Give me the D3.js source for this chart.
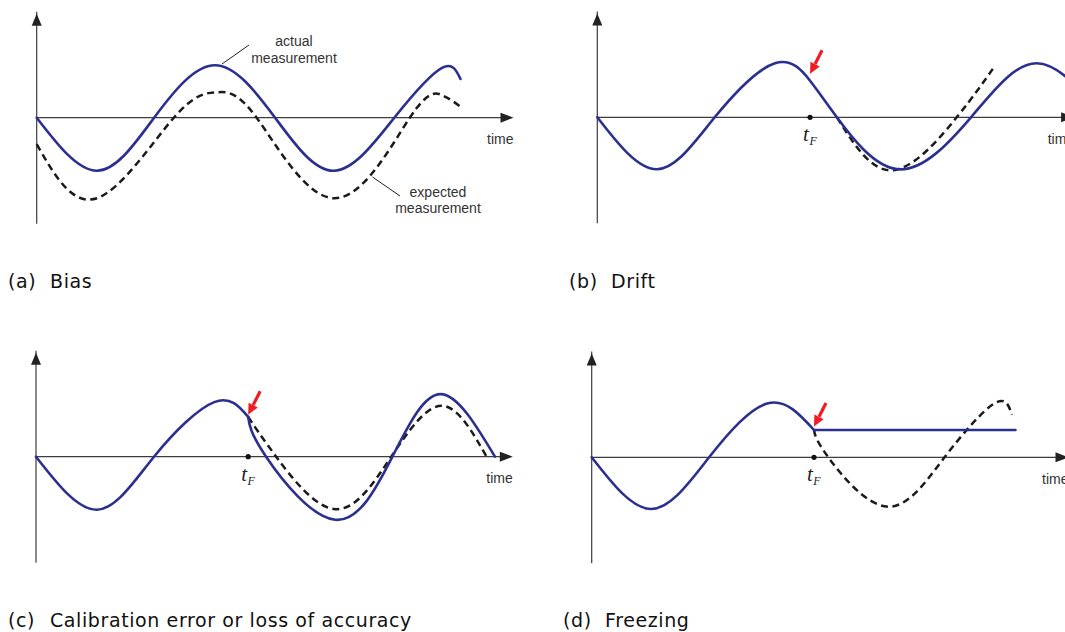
<!DOCTYPE html>
<html><head><meta charset="utf-8">
<script src="https://cdn.jsdelivr.net/npm/d3@7"></script>
<style>body{margin:0;background:#fff} svg{display:block}</style>
</head><body>
<svg id="chart" width="1065" height="632"></svg>
<script>
// ---- data (time in quarter-periods, value in amplitude units) ----
const biasActual   = [[0,0],[1.01,-1],[1.97,0],[2.99,0.99],[4.0,0],[4.99,-1],[6.0,0],[6.8,0.94],[7.11,0.73]];
const biasExpected = [[0,-0.5],[1.01,-1.52],[2.30,0],[3.02,0.48],[3.69,0],[5.0,-1.52],[6.26,0],[6.79,0.43],[7.11,0.21]];

const driftActual   = [[0,0],[1.0,-0.98],[1.97,0],[2.98,1.02],[3.57,0.69],[4.02,0],[5.05,-0.98],[6.27,0],[7.37,1.02],[8.5,0]];
const driftExpected = [[4.02,0],[4.95,-1.0],[6.03,0],[6.64,0.92]];
const driftTF = 3.57;

const calibActualBefore = [[0,0],[1.02,-1.0],[1.98,0],[2.99,1.03],[3.56,0.75]];
const calibActualAfter  = [[3.56,0.75],[3.86,0],[5.02,-1.19],[5.98,0],[6.79,1.18],[7.70,0]];
const calibExpected     = [[3.56,0.75],[4.03,0],[5.02,-0.99],[5.96,0],[6.81,0.96],[7.56,0]];
const calibTF = 3.56;

const freezeActualBefore = [[0,0],[1.0,-0.975],[1.97,0],[2.96,1.02],[3.73,0.515]];
const freezeActualFrozen = [[3.73,0.515],[7.11,0.515]];
const freezeExpected     = [[3.73,0.515],[3.97,0],[4.95,-0.93],[5.92,0],[6.76,1.02],[7.05,0.8]];
const freezeTF = 3.73;

// red arrow targets (value at tip, just above the curve)
const arrowTips = [0.82, 0.79, 0.58];

const captionTags  = ["(a)","(b)","(c)","(d)"];
const captionTexts = ["Bias","Drift","Calibration error or loss of accuracy","Freezing"];
const axisLabel = "time";
const biasLabels = [["actual","measurement"],["expected","measurement"]];

// ---- drawing ----
const svg = d3.select("#chart");
const BLUE = "#2b3090", DASH = "#1b1b1b", RED = "#ee1c25", AXIS = "#3d3d3d", TXT = "#333";
const XU = 59.6, YU = 53;

function makePanel(ox, oy){
  const g = svg.append("g");
  const x = d3.scaleLinear().domain([0,8]).range([ox, ox + 8*XU]);
  const y = d3.scaleLinear().domain([-1,1]).range([oy + YU, oy - YU]);
  g.append("line").attr("x1", x(0)).attr("x2", x(0)).attr("y1", y(-2)).attr("y2", y(1.96)-2)
    .attr("stroke", AXIS).attr("stroke-width", 1.2);
  g.append("path").attr("d", `M${x(0)},${y(1.96)} l-5,12 l10,0 z`).attr("fill", "#222");
  g.append("line").attr("x1", x(0)).attr("x2", x(8)-4).attr("y1", y(0)).attr("y2", y(0))
    .attr("stroke", AXIS).attr("stroke-width", 1.2);
  g.append("path").attr("d", `M${x(8)},${y(0)} l-13,-5 l0,10 z`).attr("fill", "#222");
  g.append("text").attr("x", x(8)).attr("y", y(0)+26.5).attr("text-anchor","end")
    .attr("font-family","'Liberation Sans', Arial, sans-serif").attr("font-size", 14)
    .attr("fill", TXT).text(axisLabel);
  return {g, x, y};
}

function curve(p, data, opts){
  const line = d3.line().x(d => p.x(d[0])).y(d => p.y(d[1]))
    .curve(opts.linear ? d3.curveLinear : d3.curveNatural);
  const path = p.g.append("path").datum(data).attr("d", line)
    .attr("fill","none").attr("stroke", opts.color).attr("stroke-width", opts.width || 2.6)
    .attr("stroke-linecap", opts.dash ? "butt" : "round").attr("stroke-linejoin","round");
  if (opts.dash) path.attr("stroke-dasharray", opts.dash);
  return path;
}

function tfMark(p, tf, tipVal){
  const cx = p.x(tf), cy = p.y(0);
  p.g.append("circle").attr("cx", cx).attr("cy", cy).attr("r", 2.6).attr("fill", "#111");
  const t = p.g.append("text").attr("x", cx - 7).attr("y", cy + 24)
    .attr("font-family","'Liberation Serif', 'Times New Roman', serif")
    .attr("font-style","italic").attr("fill", "#222");
  t.append("tspan").attr("font-size", 21).text("t");
  t.append("tspan").attr("font-size", 12).attr("dy", 4).attr("dx", 0.5).text("F");
  const tipX = p.x(tf), tipY = p.y(tipVal);
  const tailX = tipX + 12, tailY = tipY - 23.5;
  const ang = Math.atan2(tipY - tailY, tipX - tailX);
  const hl = 11, hw = 5.2;
  const bx = tipX - hl*Math.cos(ang), by = tipY - hl*Math.sin(ang);
  p.g.append("line").attr("x1", tailX).attr("y1", tailY).attr("x2", bx).attr("y2", by)
    .attr("stroke", RED).attr("stroke-width", 3.2);
  const nx = -Math.sin(ang), ny = Math.cos(ang);
  p.g.append("path").attr("d",
    `M${tipX},${tipY} L${bx + nx*hw},${by + ny*hw} L${bx - nx*hw},${by - ny*hw} Z`).attr("fill", RED);
}

function caption(x, y, i){
  const f = "'DejaVu Sans', sans-serif";
  svg.append("text").attr("x", x).attr("y", y).attr("font-family", f).attr("font-size", 19)
    .attr("letter-spacing", 0.6).attr("fill", "#111").text(captionTags[i]);
  svg.append("text").attr("x", x + 42).attr("y", y).attr("font-family", f).attr("font-size", 19)
    .attr("letter-spacing", 0.6).attr("fill", "#111").text(captionTexts[i]);
}

// (a) Bias
const pa = makePanel(36.7, 117.7);
curve(pa, biasExpected, {color: DASH, dash: "7,4.5", width: 2.5});
curve(pa, biasActual, {color: BLUE});
const lab = pa.g.append("g").attr("font-family","'Liberation Sans', Arial, sans-serif")
  .attr("font-size", 14).attr("fill", TXT).attr("text-anchor","middle");
lab.append("text").attr("x", 294).attr("y", 46).text(biasLabels[0][0]);
lab.append("text").attr("x", 294).attr("y", 63).text(biasLabels[0][1]);
lab.append("text").attr("x", 438).attr("y", 197).text(biasLabels[1][0]);
lab.append("text").attr("x", 438).attr("y", 213).text(biasLabels[1][1]);
pa.g.append("line").attr("x1", 222).attr("y1", 64).attr("x2", 249).attr("y2", 45)
  .attr("stroke", "#222").attr("stroke-width", 1);
pa.g.append("line").attr("x1", 372.5).attr("y1", 177).attr("x2", 400).attr("y2", 196)
  .attr("stroke", "#222").attr("stroke-width", 1);
caption(8, 287.5, 0);

// (b) Drift
const pb = makePanel(597.3, 117.3);
curve(pb, driftExpected, {color: DASH, dash: "7,4.5", width: 2.5});
curve(pb, driftActual, {color: BLUE});
tfMark(pb, driftTF, arrowTips[0]);
caption(569, 287.5, 1);

// (c) Calibration
const pc = makePanel(36, 456.7);
curve(pc, calibExpected, {color: DASH, dash: "7,4.5", width: 2.5});
curve(pc, calibActualBefore, {color: BLUE});
curve(pc, calibActualAfter, {color: BLUE});
tfMark(pc, calibTF, arrowTips[1]);
caption(8, 627, 2);

// (d) Freezing
const pd = makePanel(591.7, 457.3);
curve(pd, freezeExpected, {color: DASH, dash: "7,4.5", width: 2.5});
curve(pd, freezeActualBefore, {color: BLUE});
curve(pd, freezeActualFrozen, {color: BLUE, linear: true});
tfMark(pd, freezeTF, arrowTips[2]);
caption(563, 627, 3);
</script>
</body></html>
